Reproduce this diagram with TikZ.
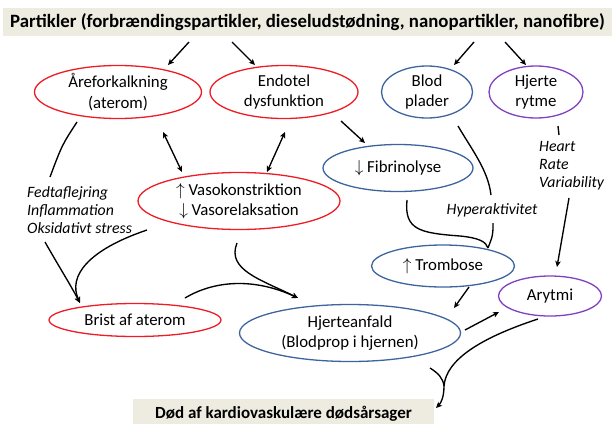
\documentclass[tikz,border=0pt]{standalone}
\usepackage{fontspec}
\setmainfont{Carlito}
\usetikzlibrary{shapes.geometric,arrows.meta}
\definecolor{cred}{HTML}{EE1C25}
\definecolor{cblue}{HTML}{3E649E}
\definecolor{cpurple}{HTML}{8040C0}
\definecolor{cbeige}{HTML}{EEECE1}
\tikzset{
  ell/.style={ellipse, draw, line width=1.3pt, inner sep=0pt, align=center,
    font=\fontsize{16.8}{20.5}\selectfont},
  redell/.style={ell, draw=cred},
  blueell/.style={ell, draw=cblue},
  purpell/.style={ell, draw=cpurple},
  bar/.style={fill=cbeige, inner sep=0pt, font=\bfseries\fontsize{17}{20}\selectfont},
  lab/.style={inner sep=0pt, align=left, font=\itshape\fontsize{15.8}{18}\selectfont},
  conn/.style={line width=1.35pt, black},
  arr/.style={conn, -{Stealth[length=6pt,width=5.5pt,inset=1.5pt]}},
  darr/.style={conn, {Stealth[length=6pt,width=5.5pt,inset=1.5pt]}-{Stealth[length=6pt,width=5.5pt,inset=1.5pt]}},
}
\begin{document}
\begin{tikzpicture}[x=1pt,y=-1pt]
\useasboundingbox (0,0) rectangle (612,423);

% boxes
\node[bar, minimum width=609pt, minimum height=28pt, font=\bfseries\fontsize{18.8}{20}\selectfont] (title) at (307.5,22)
  {Partikler (forbrændingspartikler, dieseludstødning, nanopartikler, nanofibre)};
\node[bar, minimum width=301pt, minimum height=30pt] (dod) at (283.5,414)
  {Død af kardiovaskulære dødsårsager};

% ellipses
\node[redell, minimum width=167pt, minimum height=53pt] (are) at (118,92) {Åreforkalkning\\(aterom)};
\node[redell, minimum width=148pt, minimum height=53pt] (endo) at (284,92) {Endotel\\dysfunktion};
\node[blueell, minimum width=91pt, minimum height=52pt] (blod) at (427,92) {Blod\\plader};
\node[purpell, minimum width=94pt, minimum height=52pt] (hjer) at (536,92) {Hjerte\\rytme};
\node[redell, minimum width=202pt, minimum height=57pt] (vaso) at (239,201)
  {$\uparrow$ Vasokonstriktion\\$\downarrow$ Vasorelaksation};
\node[blueell, minimum width=150pt, minimum height=47pt] (fib) at (398,168) {$\downarrow$ Fibrinolyse};
\node[blueell, minimum width=143pt, minimum height=42pt] (trom) at (443,266) {$\uparrow$ Trombose};
\node[purpell, minimum width=103pt, minimum height=40pt] (aryt) at (550,296) {Arytmi};
\node[redell, minimum width=172pt, minimum height=33pt] (brist) at (135,320) {Brist af aterom};
\node[blueell, minimum width=221pt, minimum height=57pt] (hja) at (350,333)
  {Hjerteanfald\\(Blodprop i hjernen)};

% labels
\node[lab, anchor=west] (fedt) at (27,210) {Fedtaflejring\\Inflammation\\Oksidativt stress};
\node[lab] (hyper) at (492,210) {Hyperaktivitet};
\node[lab, anchor=west] (hrv) at (539,166) {Heart\\Rate\\Variability};

% coordinates for connector ends
\coordinate (t1) at (189,42); \coordinate (e1) at (168,65);
\coordinate (t2) at (232,42); \coordinate (e2) at (255,65);
\coordinate (t3) at (474,42); \coordinate (e3) at (454,65);
\coordinate (t4) at (505,42); \coordinate (e4) at (526,65);
\coordinate (d1a) at (163,132); \coordinate (d1b) at (182,172);
\coordinate (d2a) at (285,132); \coordinate (d2b) at (267,172);
\coordinate (a1) at (77,122); \coordinate (a2) at (50,177);
\coordinate (f1) at (45,242); \coordinate (v1) at (147,230);
\coordinate (bt) at (80,303);
\coordinate (b1) at (185,298); \coordinate (vb) at (237,243); \coordinate (ht) at (298,298);
\coordinate (en1) at (341,121); \coordinate (fb1) at (365,143);
\coordinate (bl1) at (458,126); \coordinate (bl2) at (491,195);
\coordinate (hy1) at (493,223); \coordinate (tr1) at (488,248);
\coordinate (fi1) at (407,200);
\coordinate (hr0) at (558,126); \coordinate (hr1) at (559,135);
\coordinate (hr2) at (569,198); \coordinate (ar1) at (557,267);
\coordinate (tr2) at (469,287); \coordinate (hj1) at (454,308);
\coordinate (hj2) at (465,330); \coordinate (ar2) at (499,312);
\coordinate (ar3) at (538,319); \coordinate (hj3) at (430,368);
\coordinate (mg) at (444,386); \coordinate (dd) at (436,408);

% connectors
\draw[arr] (t1) -- (e1);
\draw[arr] (t2) -- (e2);
\draw[arr] (t3) -- (e3);
\draw[arr] (t4) -- (e4);
\draw[darr] (d1a) -- (d1b);
\draw[darr] (d2a) -- (d2b);
\draw[conn] (a1) .. controls (62,145) .. (a2);
\draw[arr] (f1) .. controls (58,265) and (70,284) .. (bt);
\draw[arr] (v1) .. controls (88,250) and (68,276) .. (bt);
\draw[arr] (b1) .. controls (215,280) and (255,278) .. (ht);
\draw[arr] (vb) .. controls (226,270) and (262,280) .. (ht);
\draw[arr] (en1) -- (fb1);
\draw[conn] (bl1) .. controls (472,150) and (488,170) .. (bl2);
\draw[conn] (hy1) .. controls (493,235) .. (tr1);
\draw[conn] (fi1) .. controls (404,230) and (420,233) .. (460,236)
  .. controls (480,238) and (486,242) .. (tr1);
\draw[conn] (hr0) -- (hr1);
\draw[arr] (hr2) -- (ar1);
\draw[arr] (tr2) -- (hj1);
\draw[arr] (hj2) -- (ar2);
\draw[conn] (ar3) .. controls (480,338) and (446,360) .. (mg);
\draw[conn] (hj3) .. controls (438,373) and (443,378) .. (mg);
\draw[arr] (mg) .. controls (444,397) and (441,403) .. (dd);
\end{tikzpicture}
\end{document}
